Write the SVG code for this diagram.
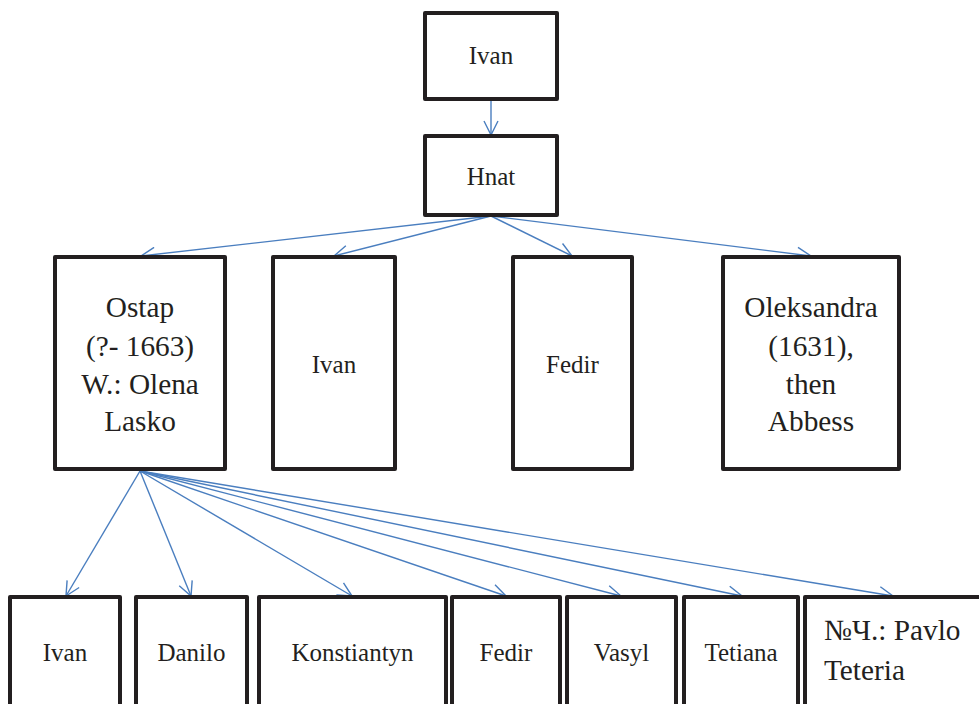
<svg xmlns="http://www.w3.org/2000/svg" width="979" height="704" viewBox="0 0 979 704">
<style>
.box{fill:#fff;stroke:#231f20;stroke-width:4;stroke-linejoin:round}
text{font-family:'Liberation Serif','DejaVu Serif',serif;fill:#231f20;text-anchor:middle}
.s{font-size:25px}
.b{font-size:29.3px}
.l{text-anchor:start}
.c{fill:none;stroke:#4a7ebf;stroke-width:1.4}
</style>
<defs>
<marker id="ah" markerUnits="userSpaceOnUse" markerWidth="16" markerHeight="16" viewBox="0 0 16 16" refX="15" refY="8" orient="auto">
<path d="M1,1 L15,8 L1,15" fill="none" stroke="#4a7ebf" stroke-width="1.4"/>
</marker>
</defs>
<rect width="979" height="704" fill="#fff"/>
<g id="connectors">
<line class="c" x1="491" y1="99" x2="491" y2="135" marker-end="url(#ah)"/>
<line class="c" x1="491" y1="216" x2="141" y2="256" marker-end="url(#ah)"/>
<line class="c" x1="491" y1="216" x2="334" y2="256" marker-end="url(#ah)"/>
<line class="c" x1="491" y1="216" x2="572" y2="256" marker-end="url(#ah)"/>
<line class="c" x1="491" y1="216" x2="811" y2="256" marker-end="url(#ah)"/>
<line class="c" x1="140" y1="471" x2="66" y2="596" marker-end="url(#ah)"/>
<line class="c" x1="140" y1="471" x2="191" y2="596" marker-end="url(#ah)"/>
<line class="c" x1="140" y1="471" x2="352" y2="596" marker-end="url(#ah)"/>
<line class="c" x1="140" y1="471" x2="506" y2="596" marker-end="url(#ah)"/>
<line class="c" x1="140" y1="471" x2="621" y2="596" marker-end="url(#ah)"/>
<line class="c" x1="140" y1="471" x2="742" y2="596" marker-end="url(#ah)"/>
<line class="c" x1="140" y1="471" x2="893" y2="596" marker-end="url(#ah)"/>
</g>
<g id="n-ivan-top"><rect class="box" x="425" y="13" width="132" height="86"/><text class="s" x="491" y="64" font-family="Liberation Serif, serif">Ivan</text></g>
<g id="n-hnat"><rect class="box" x="425" y="136" width="132" height="79"/><text class="s" x="491" y="185">Hnat</text></g>
<g id="n-ostap"><rect class="box" x="55" y="257" width="170" height="212"/>
<text class="b" x="140" y="317">Ostap</text>
<text class="b" x="140" y="356">(?- 1663)</text>
<text class="b" x="140" y="394">W.: Olena</text>
<text class="b" x="140" y="431">Lasko</text></g>
<g id="n-ivan-mid"><rect class="box" x="273" y="257" width="122" height="212"/><text class="s" x="334" y="373">Ivan</text></g>
<g id="n-fedir-mid"><rect class="box" x="513" y="257" width="119" height="212"/><text class="s" x="572.5" y="373">Fedir</text></g>
<g id="n-oleksandra"><rect class="box" x="723" y="257" width="176" height="212"/>
<text class="b" x="811" y="317">Oleksandra</text>
<text class="b" x="811" y="356">(1631),</text>
<text class="b" x="811" y="394">then</text>
<text class="b" x="811" y="431">Abbess</text></g>
<g id="n-ivan-bot"><rect class="box" x="10" y="597" width="110" height="120"/><text class="s" x="65" y="661">Ivan</text></g>
<g id="n-danilo"><rect class="box" x="136" y="597" width="111" height="120"/><text class="s" x="191.5" y="661">Danilo</text></g>
<g id="n-konstiantyn"><rect class="box" x="259" y="597" width="187" height="120"/><text class="s" x="352.5" y="661">Konstiantyn</text></g>
<g id="n-fedir-bot"><rect class="box" x="452" y="597" width="108" height="120"/><text class="s" x="506" y="661">Fedir</text></g>
<g id="n-vasyl"><rect class="box" x="567" y="597" width="109" height="120"/><text class="s" x="621.5" y="661">Vasyl</text></g>
<g id="n-tetiana"><rect class="box" x="684" y="597" width="114" height="120"/><text class="s" x="741" y="661">Tetiana</text></g>
<g id="n-pavlo"><rect class="box" x="805" y="597" width="178" height="120"/>
<text class="b l" x="824" y="640">№Ч.: Pavlo</text>
<text class="b l" x="824" y="680">Teteria</text></g>
</svg>
